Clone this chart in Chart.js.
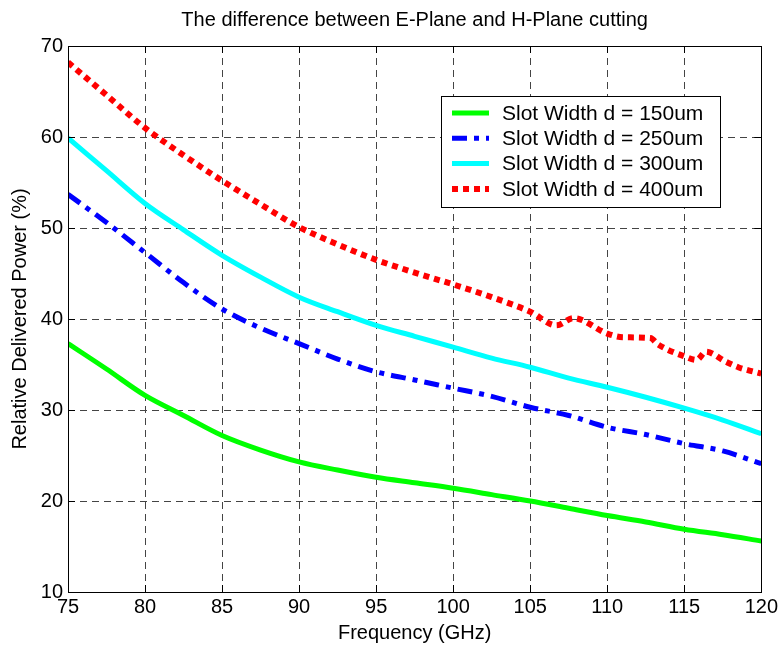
<!DOCTYPE html>
<html>
<head>
<meta charset="utf-8">
<script src="https://cdn.jsdelivr.net/npm/chart.js@4.4.1/dist/chart.umd.min.js"></script>
<style>
  html, body { margin: 0; padding: 0; background: #fff; }
  #wrap { width: 781px; height: 647px; }
</style>
</head>
<body>
<div id="wrap"><canvas id="c" width="781" height="647"></canvas></div>
<script>
// ---- data ----
const freq = [75, 77.5, 80, 82.5, 85, 87.5, 90, 92.5, 95, 97.5, 100, 102.5, 105, 107.5, 110, 112.5, 115, 117.5, 120];
const slot150 = [37.3, 34.5, 31.6, 29.4, 27.2, 25.6, 24.3, 23.4, 22.6, 22.0, 21.4, 20.7, 20.0, 19.2, 18.4, 17.7, 16.9, 16.3, 15.6];
const slot250 = [53.7, 50.6, 47.3, 44.0, 41.1, 39.0, 37.3, 35.6, 34.2, 33.3, 32.4, 31.5, 30.3, 29.4, 28.1, 27.3, 26.3, 25.5, 24.1];
const slot300 = [59.9, 56.3, 52.7, 49.8, 47.0, 44.6, 42.4, 40.8, 39.3, 38.1, 36.9, 35.7, 34.7, 33.5, 32.5, 31.4, 30.2, 28.9, 27.4];
const freqRed = [75, 77.5, 80, 82.5, 85, 87.5, 90, 92.5, 95, 97.5, 100, 102.5, 105, 106.7, 107.8, 110, 111, 112.8, 113.3, 115, 115.8, 116.4, 117.7, 118.5, 120];
const slot400 = [68.2, 64.6, 61.0, 58.0, 55.2, 52.6, 50.1, 48.2, 46.5, 45.1, 43.8, 42.4, 40.8, 39.3, 40.1, 38.4, 38.0, 37.9, 37.2, 35.9, 35.5, 36.4, 35.3, 34.7, 34.0];
const seriesNames = ['Slot Width d = 150um', 'Slot Width d = 250um', 'Slot Width d = 300um', 'Slot Width d = 400um'];
const xTicks = [75, 80, 85, 90, 95, 100, 105, 110, 115, 120];
const yTicks = [10, 20, 30, 40, 50, 60, 70];
const titleText = 'The difference between E-Plane and H-Plane cutting';
const xTitle = 'Frequency (GHz)';
const yTitle = 'Relative Delivered Power (%)';

const FONT = "'Liberation Sans', Arial, Helvetica, sans-serif";
const pts = (xs, ys) => xs.map((x, i) => ({ x: x, y: ys[i] }));

const datasets = [
  { label: seriesNames[0], data: pts(freq, slot150), borderColor: '#00ff00', borderWidth: 5, borderDash: [] },
  { label: seriesNames[1], data: pts(freq, slot250), borderColor: '#0000ff', borderWidth: 5, borderDash: [15, 7, 5, 7] },
  { label: seriesNames[2], data: pts(freq, slot300), borderColor: '#00ffff', borderWidth: 5, borderDash: [] },
  { label: seriesNames[3], data: pts(freqRed, slot400), borderColor: '#ff0000', borderWidth: 6, borderDash: [6, 5] }
].map(d => Object.assign(d, { pointRadius: 0, fill: false, cubicInterpolationMode: 'monotone', borderCapStyle: 'butt', borderJoinStyle: 'miter' }));

// frame + inward ticks (MATLAB style) + title centred over the plot area
const framePlugin = {
  id: 'frame',
  afterDraw(chart) {
    const { ctx, chartArea: a, scales } = chart;
    ctx.save();
    ctx.strokeStyle = '#000';
    ctx.lineWidth = 1;
    ctx.setLineDash([]);
    ctx.strokeRect(Math.round(a.left) + 0.5, Math.round(a.top) + 0.5, Math.round(a.right - a.left), Math.round(a.bottom - a.top));
    const tl = 7;
    ctx.beginPath();
    xTicks.forEach(v => {
      const x = Math.round(scales.x.getPixelForValue(v)) + 0.5;
      ctx.moveTo(x, a.bottom); ctx.lineTo(x, a.bottom - tl);
      ctx.moveTo(x, a.top); ctx.lineTo(x, a.top + tl);
    });
    yTicks.forEach(v => {
      const y = Math.round(scales.y.getPixelForValue(v)) + 0.5;
      ctx.moveTo(a.left, y); ctx.lineTo(a.left + tl, y);
      ctx.moveTo(a.right, y); ctx.lineTo(a.right - tl, y);
    });
    ctx.stroke();
    ctx.fillStyle = '#000';
    ctx.font = '20px ' + FONT;
    ctx.textAlign = 'center';
    ctx.textBaseline = 'middle';
    ctx.fillText(titleText, (a.left + a.right) / 2, 20);
    ctx.restore();
  }
};

// legend box inside the plot, top right
const legendPlugin = {
  id: 'boxLegend',
  afterDraw(chart) {
    const { ctx } = chart;
    const bx = 441, by = 96, bw = 279, bh = 111;
    ctx.save();
    ctx.fillStyle = '#fff';
    ctx.fillRect(bx, by, bw, bh);
    ctx.strokeStyle = '#000';
    ctx.lineWidth = 1;
    ctx.setLineDash([]);
    ctx.strokeRect(bx + 0.5, by + 0.5, bw, bh);
    ctx.font = '21px ' + FONT;
    ctx.textBaseline = 'middle';
    ctx.textAlign = 'left';
    chart.data.datasets.forEach((ds, i) => {
      const y = by + 17 + i * 25.3;
      ctx.beginPath();
      ctx.strokeStyle = ds.borderColor;
      ctx.lineWidth = ds.borderWidth;
      ctx.lineCap = 'butt';
      ctx.setLineDash(ds.borderDash);
      ctx.moveTo(452, y);
      ctx.lineTo(489, y);
      ctx.stroke();
      ctx.setLineDash([]);
      ctx.fillStyle = '#000';
      ctx.fillText(ds.label, 502, y + 1);
    });
    ctx.restore();
  }
};

new Chart(document.getElementById('c'), {
  type: 'line',
  data: { datasets: datasets },
  options: {
    responsive: false,
    animation: false,
    devicePixelRatio: 1,
    layout: { padding: { left: 0, right: 18, top: 46, bottom: 0 } },
    plugins: {
      legend: { display: false },
      tooltip: { enabled: false },
      title: { display: false }
    },
    scales: {
      x: {
        type: 'linear',
        min: 75, max: 120,
        afterFit: s => { s.height = 55; },
        afterBuildTicks: s => { s.ticks = xTicks.map(v => ({ value: v })); },
        ticks: { color: '#000', font: { family: FONT, size: 20 }, padding: 3, maxRotation: 0, autoSkip: false },
        grid: { color: '#444', lineWidth: 1, drawTicks: false },
        border: { display: false, dash: [7, 5] },
        title: { display: true, text: xTitle, color: '#000', font: { family: FONT, size: 20 }, padding: { top: 0, bottom: 2 } }
      },
      y: {
        type: 'linear',
        min: 10, max: 70,
        afterFit: s => { s.width = 68; },
        afterBuildTicks: s => { s.ticks = yTicks.map(v => ({ value: v })); },
        ticks: { color: '#000', font: { family: FONT, size: 20 }, padding: 5, autoSkip: false },
        grid: { color: '#444', lineWidth: 1, drawTicks: false },
        border: { display: false, dash: [7, 5] },
        title: { display: true, text: yTitle, color: '#000', font: { family: FONT, size: 20 }, padding: { top: 8, bottom: 0 } }
      }
    }
  },
  plugins: [framePlugin, legendPlugin]
});
</script>
</body>
</html>
